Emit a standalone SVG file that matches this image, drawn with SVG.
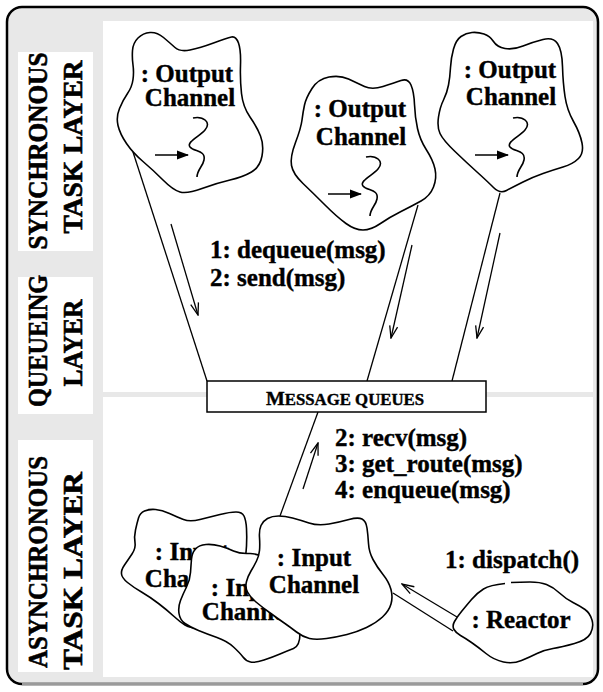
<svg xmlns="http://www.w3.org/2000/svg" width="603" height="692" viewBox="0 0 603 692">
<style>
text{font-family:"Liberation Serif","Times New Roman",serif;font-weight:bold;fill:#000;stroke:#000;stroke-width:0.4px}
.lbl{font-size:27px;stroke-width:0.6px}
.t{font-size:25px}
.cloud{fill:#fff;stroke:#000;stroke-width:1.6;stroke-linejoin:round}
.con{fill:none;stroke:#000;stroke-width:1.3}
.arr{fill:none;stroke:#000;stroke-width:1.3;marker-end:url(#open)}
.sq{fill:none;stroke:#000;stroke-width:1.6}
</style>
<defs>
<marker id="open" viewBox="0 0 14 10" refX="13" refY="5" markerWidth="14" markerHeight="10" orient="auto" markerUnits="userSpaceOnUse">
<path d="M1,1 L13,5 L1,9" fill="none" stroke="#000" stroke-width="1.3"/>
</marker>
<marker id="fill" viewBox="0 0 12 10" refX="11" refY="5" markerWidth="12" markerHeight="10" orient="auto" markerUnits="userSpaceOnUse">
<path d="M0,0.5 L12,5 L0,9.5 Z" fill="#000"/>
</marker>
<g id="thread">
<path class="sq" d="M193,118 C203,116 212,122 205,130 C200,136 186,142 190,147 C194,152 206,150 204,160 C203,166 197,170 197,177"/>
<line x1="155" y1="155" x2="188" y2="155" stroke="#000" stroke-width="1.6" marker-end="url(#fill)"/>
</g>
</defs>
<rect x="7" y="7" width="591" height="677" rx="15" fill="#e8e8e8" stroke="#000" stroke-width="2.5"/>
<line x1="22" y1="684" x2="583" y2="684" stroke="#9a9a9a" stroke-width="2.5"/>
<rect x="103" y="21" width="490" height="371" fill="#fff"/>
<rect x="103" y="397" width="490" height="280" fill="#fff"/>
<g id="layer-sync">
<rect x="18" y="52" width="75" height="199" fill="#fff"/>
<text class="lbl" transform="translate(47,151) rotate(-90)" text-anchor="middle" textLength="197" lengthAdjust="spacingAndGlyphs">SYNCHRONOUS</text>
<text class="lbl" transform="translate(82,147) rotate(-90)" text-anchor="middle" textLength="173" lengthAdjust="spacingAndGlyphs">TASK LAYER</text>
</g>
<g id="layer-queue">
<rect x="18" y="277" width="75" height="137" fill="#fff"/>
<text class="lbl" transform="translate(47,341) rotate(-90)" text-anchor="middle" textLength="132" lengthAdjust="spacingAndGlyphs">QUEUEING</text>
<text class="lbl" transform="translate(82,343) rotate(-90)" text-anchor="middle" textLength="87" lengthAdjust="spacingAndGlyphs">LAYER</text>
</g>
<g id="layer-async">
<rect x="18" y="440" width="75" height="232" fill="#fff"/>
<text class="lbl" transform="translate(47,562) rotate(-90)" text-anchor="middle" textLength="212" lengthAdjust="spacingAndGlyphs">ASYNCHRONOUS</text>
<text class="lbl" transform="translate(82,571) rotate(-90)" text-anchor="middle" textLength="198" lengthAdjust="spacingAndGlyphs">TASK  LAYER</text>
</g>
<g id="connectors">
<line class="con" x1="133" y1="152" x2="207" y2="381"/>
<line class="arr" x1="171" y1="224" x2="198" y2="315"/>
<line class="con" x1="418" y1="205" x2="367" y2="381"/>
<line class="arr" x1="412" y1="245" x2="391" y2="338"/>
<line class="con" x1="500" y1="193" x2="452" y2="381"/>
<line class="arr" x1="500" y1="233" x2="477" y2="338"/>
<line class="con" x1="318" y1="412" x2="280" y2="516"/>
<line class="arr" x1="303" y1="489" x2="318" y2="443"/>
<line class="con" x1="453" y1="631" x2="393" y2="593"/>
<line class="arr" x1="457" y1="617" x2="402" y2="584"/>
</g>
<g id="out1">
<path class="cloud" d="M132.5,50.5 Q133,43 138,38 Q143,33 150,32.5 Q157,32 163.5,37.5 Q170,43 175,47.5 Q180,52 190,50 Q200,48 213.5,43 Q227,38 231.5,37 Q236,36 238.5,43 Q241,50 240.5,65 Q240,80 241.5,93.5 Q243,107 250,117 Q257,127 260.5,136 Q264,145 262,156 Q260,167 251.5,172 Q243,177 230,180 Q217,183 202,188.5 Q187,194 180,192 Q173,190 163,180 Q153,170 143,161.5 Q133,153 126.5,143.5 Q120,134 118,125.5 Q116,117 119.5,108.5 Q123,100 127.5,93.5 Q132,87 133,79.5 Q134,72 133,65 Q132,58 132.5,50.5 Z"/>
<text class="t" x="187" y="82" text-anchor="middle">: Output</text>
<text class="t" x="190" y="106" text-anchor="middle">Channel</text>
<use href="#thread"/>
</g>
<g id="out2">
<path class="cloud" d="M304.5,105 Q306,98 312,88.5 Q318,79 329,77 Q340,75 348.5,79 Q357,83 364.5,86.5 Q372,90 383,86.5 Q394,83 401,80.5 Q408,78 411,85 Q414,92 414.5,104.5 Q415,117 417.5,128.5 Q420,140 426.5,150 Q433,160 435,169 Q437,178 433.5,187 Q430,196 421,201 Q412,206 401,211.5 Q390,217 380.5,223.5 Q371,230 363,230 Q355,230 346,223.5 Q337,217 325,205 Q313,193 303,183.5 Q293,174 291.5,165.5 Q290,157 295.5,142.5 Q301,128 302,120 Q303,112 304.5,105 Z"/>
<text class="t" x="360" y="117" text-anchor="middle">: Output</text>
<text class="t" x="361" y="145" text-anchor="middle">Channel</text>
<use href="#thread" transform="translate(173,39)"/>
</g>
<g id="out3">
<path class="cloud" d="M450.5,67.5 Q451,58 453.5,49 Q456,40 461,36.5 Q466,33 472,32.5 Q478,32 484,34 Q490,36 493.5,41.5 Q497,47 505,48.5 Q513,50 523,46 Q533,42 543,39.5 Q553,37 557.5,43.5 Q562,50 562.5,66.5 Q563,83 565,96.5 Q567,110 573.5,121.5 Q580,133 582,143 Q584,153 578.5,158.5 Q573,164 563,167 Q553,170 543,173.5 Q533,177 523,182 Q513,187 506.5,190.5 Q500,194 493.5,187.5 Q487,181 477,172 Q467,163 455,151.5 Q443,140 440,133.5 Q437,127 438.5,117 Q440,107 443.5,100 Q447,93 448.5,85 Q450,77 450.5,67.5 Z"/>
<text class="t" x="510" y="78" text-anchor="middle">: Output</text>
<text class="t" x="511" y="105" text-anchor="middle">Channel</text>
<use href="#thread" transform="translate(320,0)"/>
</g>
<g id="queue">
<rect x="207" y="381" width="279" height="31" fill="#fff" stroke="#000" stroke-width="1.5"/>
<text x="345" y="405" text-anchor="middle" font-size="16" stroke-width="0.3" textLength="158" lengthAdjust="spacingAndGlyphs"><tspan font-size="19">M</tspan>ESSAGE QUEUES</text>
</g>
<g id="in1">
<path class="cloud" d="M135.5,530 Q137,523 138.5,518 Q140,513 144.5,511 Q149,509 155.5,509.5 Q162,510 169.5,513.5 Q177,517 183.5,519.5 Q190,522 200,519.5 Q210,517 220,514.5 Q230,512 236,512 Q242,512 244,516 Q246,520 246.5,528.5 Q247,537 246.5,546 Q246,555 243,577.5 Q240,600 227.5,615 Q215,630 202.5,629 Q190,628 185,625 Q180,622 173.5,616 Q167,610 158.5,603.5 Q150,597 141.5,592 Q133,587 127.5,582.5 Q122,578 121.5,574 Q121,570 124.5,565 Q128,560 132,554 Q136,548 135,542.5 Q134,537 135.5,530 Z"/>
<text class="t" x="192" y="560" text-anchor="middle">: Input</text>
<text class="t" x="190" y="587" text-anchor="middle">Channel</text>
</g>
<g id="in2">
<path class="cloud" d="M195.5,549 Q199,545 206,544.5 Q213,544 220,546 Q227,548 233.5,551 Q240,554 249,553.5 Q258,553 271.5,561.5 Q285,570 292.5,595 Q300,620 300,633 Q300,646 293.5,648.5 Q287,651 280,654 Q273,657 264,660 Q255,663 250.5,662 Q246,661 243,657 Q240,653 233.5,647 Q227,641 217,637.5 Q207,634 198.5,630.5 Q190,627 185,623.5 Q180,620 179,613.5 Q178,607 180.5,600.5 Q183,594 186.5,587 Q190,580 190.5,572.5 Q191,565 191.5,559 Q192,553 195.5,549 Z"/>
<text class="t" x="248" y="596" text-anchor="middle">: Input</text>
<text class="t" x="247" y="620" text-anchor="middle">Channel</text>
</g>
<g id="in3">
<path class="cloud" d="M259.5,537.5 Q259,530 261,525.5 Q263,521 267.5,518.5 Q272,516 278.5,516 Q285,516 292.5,518 Q300,520 309,523 Q318,526 329,524 Q340,522 349,519.5 Q358,517 362,519 Q366,521 367,528 Q368,535 368.5,543.5 Q369,552 373,559.5 Q377,567 383,574.5 Q389,582 391,589.5 Q393,597 391,604 Q389,611 382.5,617 Q376,623 366.5,627.5 Q357,632 347,634.5 Q337,637 326.5,638.5 Q316,640 309.5,638.5 Q303,637 296.5,632 Q290,627 283.5,622.5 Q277,618 269.5,612.5 Q262,607 256,602 Q250,597 247.5,592 Q245,587 246.5,581.5 Q248,576 251,571 Q254,566 256.5,561 Q259,556 259.5,550.5 Q260,545 259.5,537.5 Z"/>
<text class="t" x="314" y="566" text-anchor="middle">: Input</text>
<text class="t" x="314" y="593" text-anchor="middle">Channel</text>
</g>
<g id="reactor">
<path class="cloud" d="M505,583.5 Q490,585 483.5,589 Q477,593 471.5,599.5 Q466,606 461.5,611.5 Q457,617 454.5,621.5 Q452,626 454,629.5 Q456,633 460.5,635.5 Q465,638 471.5,642.5 Q478,647 486,653.5 Q494,660 503.5,662 Q513,664 521.5,660.5 Q530,657 537,653.5 Q544,650 553,648.5 Q562,647 574.5,643.5 Q587,640 590.5,633.5 Q594,627 592,620 Q590,613 585,609.5 Q580,606 573,602.5 Q566,599 559.5,593 Q553,587 546.5,584.5 Q540,582 530,582 Q520,582 511,582.5"/>
<text class="t" x="521" y="628" text-anchor="middle">: Reactor</text>
</g>
<g id="labels">
<text class="t" x="210" y="258">1: dequeue(msg)</text>
<text class="t" x="210" y="286">2: send(msg)</text>
<text class="t" x="335" y="446">2: recv(msg)</text>
<text class="t" x="335" y="472">3: get_route(msg)</text>
<text class="t" x="335" y="498">4: enqueue(msg)</text>
<text class="t" x="445" y="568">1: dispatch()</text>
</g>
</svg>
